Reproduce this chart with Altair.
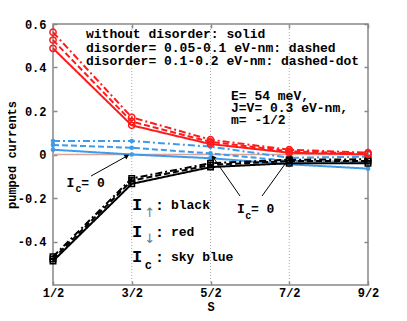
import altair as alt
import pandas as pd

# ---- data ----
S_values = [0.5, 1.5, 2.5, 3.5, 4.5]
S_labels = ["1/2", "3/2", "5/2", "7/2", "9/2"]
y_ticks = [-0.4, -0.2, 0.0, 0.2, 0.4, 0.6]
y_labels = ["-0.4", "-0.2", "0", "0.2", "0.4", "0.6"]

up_solid = [-0.49, -0.135, -0.058, -0.040, -0.040]
up_dashed = [-0.48, -0.120, -0.048, -0.030, -0.030]
up_dashdot = [-0.47, -0.110, -0.040, -0.024, -0.022]

down_solid = [0.488, 0.134, 0.048, 0.008, 0.000]
down_dashed = [0.526, 0.151, 0.058, 0.015, 0.004]
down_dashdot = [0.562, 0.171, 0.068, 0.022, 0.008]

c_solid = [0.022, 0.000, -0.017, -0.045, -0.065]
c_dashed = [0.044, 0.031, 0.005, -0.030, -0.035]
c_dashdot = [0.062, 0.062, 0.036, -0.015, -0.010]

FONT = "Liberation Mono"
GRAY = "#888888"
BLUE = "#3d9be9"
RED = "#ff1a1a"
BLACK = "#000000"

rows = []
for name, color, series in [
    ("c", BLUE, {"solid": c_solid, "dashed": c_dashed, "dashdot": c_dashdot}),
    ("up", BLACK, {"solid": up_solid, "dashed": up_dashed, "dashdot": up_dashdot}),
    ("down", RED, {"solid": down_solid, "dashed": down_dashed, "dashdot": down_dashdot}),
]:
    for style, vals in series.items():
        for s, v in zip(S_values, vals):
            rows.append({"S": s, "val": v, "curr": name, "style": style,
                         "key": name + "_" + style})
df = pd.DataFrame(rows)

xscale = alt.Scale(domain=[0.5, 4.5], nice=False, zero=False)
yscale = alt.Scale(domain=[-0.6, 0.6], nice=False, zero=False)

dash_scale = alt.Scale(domain=["solid", "dashed", "dashdot"],
                       range=[[1, 0], [6, 3], [7, 3, 2, 3]])

x_label_expr = "%s[round(datum.value - 0.5)]" % str(S_labels)
y_label_expr = "%s[round((datum.value + 0.4) / 0.2)]" % str(y_labels)

bottom_axis = alt.Axis(values=S_values, labelExpr=x_label_expr, title="S",
                       offset=-4, domain=False, tickSize=4, tickColor=GRAY,
                       tickWidth=1.5, grid=False, labelPadding=2,
                       labelFont=FONT, labelFontSize=12, labelFontWeight="bold",
                       labelColor="black", titleFont=FONT, titleFontSize=12,
                       titleFontWeight="bold", titlePadding=3, labelFlush=False)
left_axis = alt.Axis(values=y_ticks, labelExpr=y_label_expr, title="pumped currents",
                     offset=-4, domain=False, tickSize=4, tickColor=GRAY,
                     tickWidth=1.5, grid=False, labelPadding=7,
                     labelFont=FONT, labelFontSize=12, labelFontWeight="bold",
                     labelColor="black", titleFont=FONT, titleFontSize=12,
                     titleFontWeight="bold", titlePadding=-1, labelFlush=False,
                     titleColor="black")
top_axis = alt.Axis(orient="top", values=S_values, labels=False, title=None,
                    offset=-4, domain=False, tickSize=4, tickColor=GRAY,
                    tickWidth=1.5, grid=False)
right_axis = alt.Axis(orient="right", values=y_ticks, labels=False, title=None,
                      offset=-4, domain=False, tickSize=4, tickColor=GRAY,
                      tickWidth=1.5, grid=False)

# grid (dotted verticals)
grid_df = pd.DataFrame({"S": S_values[1:-1]})
grid = alt.Chart(grid_df).mark_rule(color="#aaaaaa", strokeDash=[1, 2], strokeWidth=1).encode(
    x=alt.X("S:Q", scale=xscale, axis=top_axis),
    y=alt.Y(datum=-0.6, scale=yscale, axis=right_axis),
    y2=alt.Y2(datum=0.6),
)

zero_df = pd.DataFrame({"x0": [S_values[0]], "x1": [S_values[-1]], "y": [0.0]})
zero = alt.Chart(zero_df).mark_rule(color="#d9a49c", strokeWidth=1.5).encode(
    x=alt.X("x0:Q", scale=xscale, axis=bottom_axis),
    x2="x1:Q",
    y=alt.Y("y:Q", scale=yscale, axis=left_axis),
)


def X(f="S:Q"):
    return alt.X(f, scale=xscale, axis=None)


def Y(f="val:Q"):
    return alt.Y(f, scale=yscale, axis=None)


layers = [grid, zero]
for curr, color, shape, filled, size in [
    ("c", BLUE, "circle", True, 22),
    ("up", BLACK, "square", False, 30),
    ("down", RED, "circle", False, 40),
]:
    sub = df[df.curr == curr]
    line = alt.Chart(sub).mark_line(color=color, strokeWidth=2).encode(
        x=X(), y=Y(),
        detail="key:N",
        strokeDash=alt.StrokeDash("style:N", scale=dash_scale, legend=None),
    )
    pts = alt.Chart(sub).mark_point(shape=shape, filled=filled, color=color,
                                    size=size, strokeWidth=1.5, opacity=1).encode(
        x=X(), y=Y(),
    )
    layers += [line, pts]

# ---- annotations ----
notes_df = pd.DataFrame({
    "x": [0.919, 0.919, 0.919, 2.76, 2.76, 2.76],
    "y": [0.554, 0.491, 0.430, 0.269, 0.214, 0.159],
    "t": ["without disorder: solid",
          "disorder= 0.05-0.1 eV-nm: dashed",
          "disorder= 0.1-0.2 eV-nm: dashed-dot",
          "E= 54 meV,", "J=V= 0.3 eV-nm,", "m= -1/2"],
})
notes = alt.Chart(notes_df).mark_text(font=FONT, fontSize=13, fontWeight="bold",
                                      align="left", baseline="middle",
                                      color="black").encode(
    x=X("x:Q"), y=Y("y:Q"), text="t:N")

# I_c = 0 labels
ic_main = pd.DataFrame({
    "x": [0.67, 0.86, 2.837, 3.014],
    "y": [-0.131, -0.131, -0.251, -0.251],
    "t": ["I", "= 0", "I", "= 0"],
})
ic_sub = pd.DataFrame({"x": [0.785, 2.94], "y": [-0.159, -0.283], "t": ["c", "c"]})
ic_text = alt.Chart(ic_main).mark_text(font=FONT, fontSize=13, fontWeight="bold",
                                       align="left", baseline="middle").encode(
    x=X("x:Q"), y=Y("y:Q"), text="t:N")
ic_subtext = alt.Chart(ic_sub).mark_text(font=FONT, fontSize=10, fontWeight="bold",
                                         align="left", baseline="middle").encode(
    x=X("x:Q"), y=Y("y:Q"), text="t:N")

# arrows
arrow_df = pd.DataFrame({
    "x0": [0.983, 2.875, 3.154],
    "y0": [-0.099, -0.191, -0.191],
    "x1": [1.44, 2.532, 3.51],
    "y1": [-0.007, -0.012, -0.012],
    "ang": [61, 325, 36],
})
arrow_lines = alt.Chart(arrow_df).mark_rule(color="black", strokeWidth=1).encode(
    x=X("x0:Q"), y=Y("y0:Q"), x2="x1:Q", y2="y1:Q")
arrow_heads = alt.Chart(arrow_df).mark_point(shape="triangle-up", filled=True,
                                             color="black", size=30, opacity=1).encode(
    x=X("x1:Q"), y=Y("y1:Q"), angle=alt.Angle("ang:Q", scale=None))

# legend text
leg_I = pd.DataFrame({"x": [1.503, 1.503, 1.503], "y": [-0.232, -0.356, -0.471],
                      "t": ["I", "I", "I"]})
leg_sub = pd.DataFrame({"x": [1.66, 1.66, 1.665], "y": [-0.268, -0.39, -0.51],
                        "t": ["\u2191", "\u2193", "c"]})
leg_colon = pd.DataFrame({"x": [1.795, 1.795, 1.795], "y": [-0.232, -0.356, -0.471],
                          "t": [":", ":", ":"]})
leg_name = pd.DataFrame({"x": [1.998, 1.998, 1.998], "y": [-0.232, -0.356, -0.471],
                         "t": ["black", "red", "sky blue"]})
leg1 = alt.Chart(leg_I).mark_text(font=FONT, fontSize=17, fontWeight="bold",
                                  align="left", baseline="middle").encode(
    x=X("x:Q"), y=Y("y:Q"), text="t:N")
leg2a = alt.Chart(leg_sub[leg_sub.t != "c"]).mark_text(font="DejaVu Sans", fontSize=13,
                                                       color="#777777",
                                                       align="left", baseline="middle").encode(
    x=X("x:Q"), y=Y("y:Q"), text="t:N")
leg2b = alt.Chart(leg_sub[leg_sub.t == "c"]).mark_text(font=FONT, fontSize=12,
                                                       fontWeight="bold",
                                                       align="left", baseline="middle").encode(
    x=X("x:Q"), y=Y("y:Q"), text="t:N")
leg3 = alt.Chart(leg_colon).mark_text(font=FONT, fontSize=15, fontWeight="bold",
                                      align="left", baseline="middle").encode(
    x=X("x:Q"), y=Y("y:Q"), text="t:N")
leg4 = alt.Chart(leg_name).mark_text(font=FONT, fontSize=13, fontWeight="bold",
                                     align="left", baseline="middle").encode(
    x=X("x:Q"), y=Y("y:Q"), text="t:N")

layers += [notes, ic_text, ic_subtext, arrow_lines, arrow_heads,
           leg1, leg2a, leg2b, leg3, leg4]

chart = alt.layer(*layers).resolve_axis(x="independent", y="independent").properties(
    width=315, height=261,
    autosize=alt.AutoSizeParams(type="none"),
    padding={"left": 45, "top": 16, "right": 31, "bottom": 36},
    background="white",
).configure_view(stroke=GRAY, strokeWidth=1.5)

chart.save("out.html", embed_options={"renderer": "svg", "actions": False})
